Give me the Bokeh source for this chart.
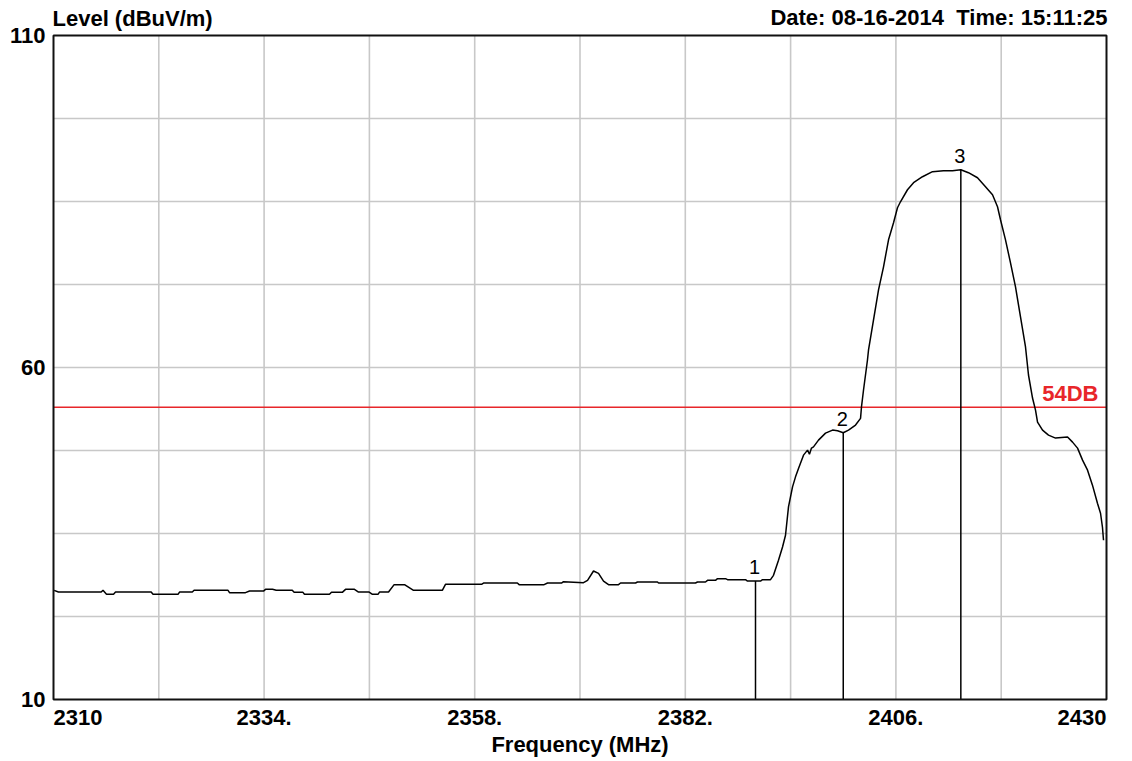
from bokeh.plotting import figure
from bokeh.models import Range1d, ColumnDataSource
from bokeh.embed import file_html
from bokeh.resources import INLINE
from bokeh.core.properties import value, field

# Spectrum trace: frequency (MHz) and level (dBuV/m)
freq = [2310.07, 2310.56, 2315.44, 2315.64, 2316.04, 2316.84, 2317.07, 2321.13, 2321.34,
        2324.19, 2324.36, 2325.82, 2326.02, 2329.89, 2330.06, 2331.88, 2332.34, 2333.93,
        2334.16, 2334.96, 2335.38, 2337.21, 2337.42, 2338.43, 2338.60, 2341.45, 2341.68,
        2342.91, 2343.28, 2344.30, 2344.76, 2345.97, 2346.35, 2346.98, 2347.15, 2348.18,
        2348.82, 2350.00, 2351.03, 2354.31, 2354.67, 2358.78, 2359.00, 2362.86, 2363.06,
        2365.91, 2366.30, 2367.89, 2368.12, 2370.40, 2370.86, 2371.54, 2372.11, 2372.68,
        2373.25, 2374.39, 2374.62, 2376.33, 2376.55, 2378.83, 2378.95, 2383.16, 2383.39,
        2384.30, 2384.53, 2385.44, 2385.67, 2386.58, 2386.81, 2388.86, 2389.09, 2390.00,
        2390.57, 2390.80, 2391.71, 2392.05, 2392.62, 2393.08, 2393.42, 2393.76, 2394.22,
        2394.56, 2394.90, 2395.47, 2395.93, 2396.15, 2396.38, 2396.61, 2397.18, 2397.98,
        2398.78, 2399.35, 2400.00, 2400.60, 2401.40, 2401.97, 2402.08, 2402.31, 2402.76,
        2402.88, 2403.45, 2404.02, 2404.59, 2405.16, 2405.73, 2406.18, 2406.52, 2407.32,
        2408.01, 2409.03, 2410.17, 2411.42, 2412.45, 2413.40, 2414.27, 2415.30, 2416.21,
        2417.01, 2417.58, 2417.92, 2418.49, 2419.06, 2419.63, 2420.20, 2420.77, 2421.11,
        2421.57, 2421.91, 2422.14, 2422.71, 2423.39, 2424.19, 2425.56, 2426.13, 2426.70,
        2427.27, 2427.84, 2428.40, 2428.97, 2429.32, 2429.54, 2429.66]
level = [26.44, 26.18, 26.18, 26.44, 25.84, 25.84, 26.18, 26.18, 25.84,
         25.84, 26.18, 26.18, 26.44, 26.44, 26.09, 26.09, 26.33, 26.33,
         26.59, 26.59, 26.44, 26.44, 26.14, 26.14, 25.84, 25.84, 26.14,
         26.14, 26.59, 26.59, 26.18, 26.18, 25.84, 25.84, 26.18, 26.18,
         27.30, 27.30, 26.44, 26.44, 27.35, 27.35, 27.54, 27.54, 27.30,
         27.30, 27.54, 27.54, 27.75, 27.60, 27.95, 29.35, 29.00, 27.84,
         27.30, 27.30, 27.54, 27.54, 27.69, 27.69, 27.54, 27.54, 27.69,
         27.69, 27.95, 27.95, 28.20, 28.20, 28.05, 28.05, 27.84, 27.84,
         27.84, 28.05, 28.05, 28.70, 30.97, 32.97, 34.74, 39.00, 42.02,
         43.53, 44.80, 46.80, 47.56, 46.95, 47.86, 48.05, 49.06, 50.12,
         50.57, 50.47, 50.17, 50.57, 51.33, 52.34, 54.09, 56.61, 61.13,
         62.64, 67.16, 71.69, 75.16, 79.23, 81.79, 84.06, 84.96, 86.77,
         87.83, 88.73, 89.49, 89.64, 89.64, 89.79, 89.34, 88.58, 87.22,
         86.02, 84.21, 82.25, 79.23, 75.76, 72.14, 67.62, 63.09, 58.87,
         55.40, 53.59, 51.78, 50.57, 49.82, 49.37, 49.52, 48.76, 47.86,
         46.05, 44.54, 42.28, 39.56, 38.05, 35.94, 33.98]

# Markers
mk_freq = [2390.0, 2400.0, 2413.4]
mk_level = [27.84, 50.17, 89.79]
mk_label = ["1", "2", "3"]

# Limit line
limit_level = 54
limit_text = "54DB"

# Axes
f_min, f_max = 2310, 2430
l_min, l_max = 10, 110
x_ticks = [2310, 2334, 2358, 2382, 2406, 2430]
x_tick_text = ["2310", "2334.", "2358.", "2382.", "2406.", "2430"]
x_tick_align = ["left", "center", "center", "center", "center", "right"]
y_ticks = [10, 60, 110]
y_tick_text = ["10", "60", "110"]
x_grid = [2322, 2334, 2346, 2358, 2370, 2382, 2394, 2406, 2418]
y_grid = [22.5, 35, 47.5, 60, 72.5, 85, 97.5]

FONT = value("Liberation Sans")
FS = value("22px")

# Canvas and the pixel margins around the plotting box
W, H = 1132, 761
left, right, top, bottom = 53, 26, 35, 62
px_x = (W - left - right) / (f_max - f_min)
px_y = (H - top - bottom) / (l_max - l_min)

p = figure(width=W, height=H,
           x_range=Range1d(f_min - left / px_x, f_max + right / px_x),
           y_range=Range1d(l_min - bottom / px_y, l_max + top / px_y),
           output_backend="svg", toolbar_location=None,
           x_axis_location=None, y_axis_location=None,
           min_border_left=0, min_border_right=0, min_border_top=0, min_border_bottom=0)
p.xgrid.visible = False
p.ygrid.visible = False
p.outline_line_color = None
p.background_fill_color = "white"
p.border_fill_color = "white"

# Grid
grid_color = "#c8c8c8"
p.segment(x0=x_grid, y0=l_min, x1=x_grid, y1=l_max, line_color=grid_color, line_width=1.6)
p.segment(x0=f_min, y0=y_grid, x1=f_max, y1=y_grid, line_color=grid_color, line_width=1.6)

# Limit line
p.segment(x0=[f_min], y0=[limit_level], x1=[f_max], y1=[limit_level],
          line_color="#e8262a", line_width=1.5)
p.text(x=[f_max], y=[limit_level], text=[limit_text], x_offset=-8, y_offset=-14,
       text_align="right", text_baseline="alphabetic", text_font=FONT,
       text_font_size=FS, text_font_style="bold", text_color="#e8262a")

# Trace and markers
p.line(freq, level, line_color="black", line_width=1.5)
p.segment(x0=mk_freq, y0=mk_level, x1=mk_freq, y1=l_min, line_color="black", line_width=1.5)
p.text(x=mk_freq, y=mk_level, text=mk_label, text_align="center", text_baseline="alphabetic",
       x_offset=-1, y_offset=-14, text_font=FONT, text_font_size=value("20px"),
       text_color="black")

# Plot box
p.quad(left=[f_min], right=[f_max], bottom=[l_min], top=[l_max], fill_color=None,
       line_color="#111111", line_width=2)

# Tick labels
xt = ColumnDataSource(dict(x=x_ticks, text=x_tick_text, align=x_tick_align))
p.text(x="x", y=l_min, text="text", source=xt, text_align=field("align"),
       y_offset=18, text_baseline="alphabetic", text_font=FONT, text_font_size=FS,
       text_font_style="bold", text_color="black")
p.text(x=f_min, y=y_ticks, text=y_tick_text, x_offset=-8, y_offset=0, text_align="right",
       text_baseline="middle", text_font=FONT, text_font_size=FS,
       text_font_style="bold", text_color="black")

# Titles
p.text(x=[f_min], y=[l_max], text=["Level (dBuV/m)"], x_offset=-1, y_offset=-17,
       text_align="left", text_baseline="alphabetic", text_font=FONT, text_font_size=FS,
       text_font_style="bold", text_color="black")
p.text(x=[f_max], y=[l_max], text=["Date: 08-16-2014\u00a0 Time: 15:11:25"],
       x_offset=1, y_offset=-18,
       text_align="right", text_baseline="alphabetic", text_font=FONT, text_font_size=FS,
       text_font_style="bold", text_color="black")
p.text(x=[(f_min + f_max) / 2], y=[l_min], text=["Frequency (MHz)"], y_offset=45,
       text_align="center", text_baseline="alphabetic", text_font=FONT, text_font_size=FS,
       text_font_style="bold", text_color="black")

open("out.html", "w").write(file_html(p, INLINE))
